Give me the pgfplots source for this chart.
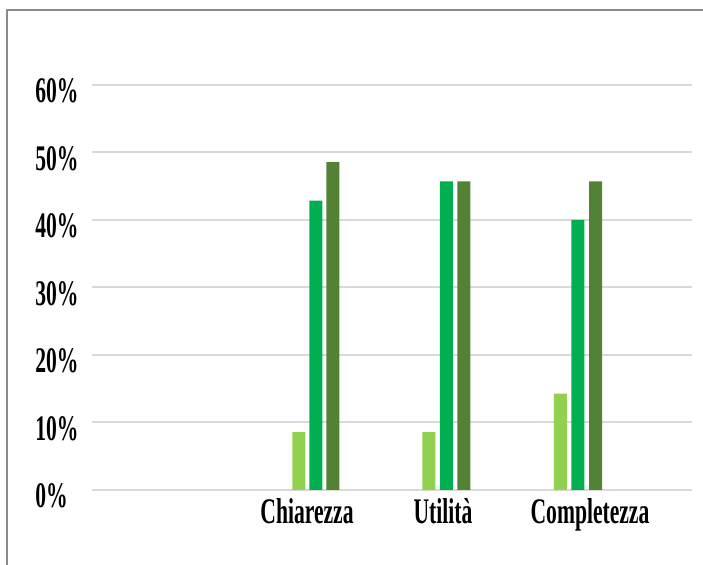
\documentclass[border=0pt]{standalone}
\usepackage{fontspec}
\setmainfont{Liberation Serif}[FakeStretch=0.6]
\usepackage{pgfplots}
\pgfplotsset{compat=1.18}

\definecolor{lightg}{HTML}{92D050}
\definecolor{midg}{HTML}{00B050}
\definecolor{darkg}{HTML}{548235}
\definecolor{gridc}{HTML}{D9D9D9}
\definecolor{framec}{HTML}{8A8A8A}

% 1 px of the reference = 0.5pt
\begin{document}
\begin{tikzpicture}
\useasboundingbox (-46pt,-37.5pt) rectangle (305.5pt,245pt);
\draw[framec, line width=1.25pt] (-42.5pt,-37.5pt) -- (-42.5pt,240pt) -- (305.5pt,240pt);
\begin{axis}[
    scale only axis,
    width=300pt, height=202.5pt,
    xmin=92, xmax=692,
    ymin=0, ymax=60,
    axis line style={draw=none},
    major tick length=0pt,
    ymajorgrids,
    grid style={gridc, line width=1pt},
    ytick={0,10,...,60},
    yticklabel={\pgfmathprintnumber{\tick}\%},
    xtick={307,443,590},
    xticklabels={Chiarezza,Utilità,Completezza},
    /pgf/number format/assume math mode=true,
    tick label style={font=\fontsize{18}{18}\selectfont\bfseries, inner sep=0pt},
    yticklabel style={anchor=west, xshift=-28.5pt, yshift=-3pt},
    xticklabel style={anchor=north, yshift=-4pt},
]
\addplot[ybar, bar width=13, bar shift=0pt, fill=lightg, draw=none]
    coordinates {(299,8.57) (429,8.57) (560.5,14.29)};
\addplot[ybar, bar width=13, bar shift=0pt, fill=midg, draw=none]
    coordinates {(316,42.86) (446.5,45.71) (578,40.00)};
\addplot[ybar, bar width=13, bar shift=0pt, fill=darkg, draw=none]
    coordinates {(333,48.57) (464,45.71) (595.7,45.71)};
\end{axis}
\end{tikzpicture}
\end{document}
